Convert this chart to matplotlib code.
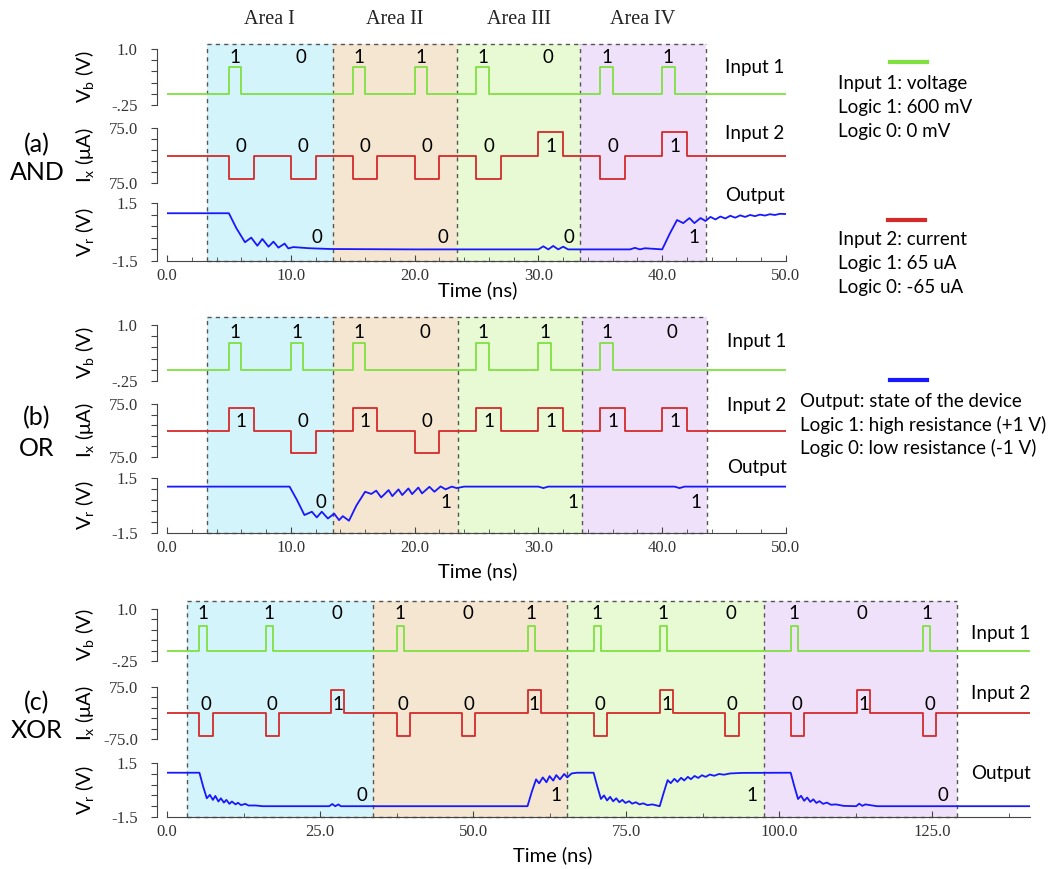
import numpy as np
import matplotlib
matplotlib.use('Agg')
import matplotlib.pyplot as plt
from matplotlib.lines import Line2D
from matplotlib.ticker import FixedLocator, MultipleLocator

plt.rcParams['font.family'] = ['Lato', 'DejaVu Sans']
plt.rcParams['mathtext.default'] = 'regular'

W, H = 1055, 869
SERIF = 'Liberation Serif'
GREEN = '#7fe040'
RED = '#d42a2a'
BLUE = '#1818ff'
AREA_COLORS = ['#d4f4fb', '#f4e6d0', '#e7fad3', '#efe1f9']

# ---- data (time in ns) ----
# (a) AND
a_slots = [5, 10, 15, 20, 25, 30, 35, 40]
a_in1 = [1, 0, 1, 1, 1, 0, 1, 1]
a_in2 = [0, 0, 0, 0, 0, 1, 0, 1]
a_areas = [3.2, 13.4, 23.4, 33.4, 43.5]
a_out_bits = ['0', '0', '0', '1']
a_out_lab_t = [12.1, 22.3, 32.5, 42.6]
a_out_t = [0, 5.0, 5.6, 6.3, 6.8, 7.3, 7.7, 8.2, 8.6, 9.0, 9.5, 9.8, 10.2, 11.5, 13.2, 20.0,
           30.0, 30.4, 30.8, 31.2, 31.6, 32.0, 32.4, 37.4, 37.8, 38.2, 38.6, 40.0, 40.6, 41.2,
           41.7, 42.2, 42.6, 43.1, 43.5, 43.9, 44.3, 44.7, 45.1, 45.5, 45.9, 46.3, 46.7, 47.1,
           47.5, 47.9, 48.3, 48.7, 49.1, 49.5, 50.0]
a_out_v = [0.97, 0.97, 0.2, -0.53, -0.29, -0.71, -0.36, -0.76, -0.5, -0.81, -0.6, -0.85, -0.78,
           -0.84, -0.88, -0.9, -0.9, -0.74, -0.9, -0.72, -0.9, -0.76, -0.9, -0.9, -0.82, -0.9,
           -0.84, -0.9, -0.1, 0.62, 0.46, 0.72, 0.46, 0.72, 0.57, 0.78, 0.65, 0.8, 0.7, 0.84,
           0.74, 0.86, 0.78, 0.88, 0.82, 0.9, 0.85, 0.92, 0.88, 0.94, 0.93]

# (b) OR
b_slots = [5, 10, 15, 20, 25, 30, 35, 40]
b_in1 = [1, 1, 1, 0, 1, 1, 1, 0]
b_in2 = [1, 0, 1, 0, 1, 1, 1, 1]
b_areas = [3.2, 13.4, 23.5, 33.5, 43.6]
b_out_bits = ['0', '1', '1', '1']
b_out_lab_t = [12.4, 22.5, 32.8, 42.7]
b_out_t = [0, 9.9, 10.5, 11.1, 11.7, 12.1, 12.5, 13.0, 13.5, 13.9, 14.2, 14.7, 15.3, 16.0, 16.5,
           16.9, 17.3, 17.9, 18.2, 18.7, 19.0, 19.5, 19.8, 20.3, 20.6, 21.2, 21.6, 22.1, 22.5,
           23.0, 23.4, 24.0, 30.0, 30.4, 30.8, 41.0, 41.4, 41.8, 50.0]
b_out_v = [1.03, 1.03, 0.3, -0.52, -0.34, -0.65, -0.34, -0.71, -0.44, -0.8, -0.58, -0.83, 0.0,
           0.75, 0.63, 0.81, 0.44, 0.84, 0.51, 0.88, 0.57, 0.93, 0.62, 0.98, 0.66, 1.02, 0.75,
           1.04, 0.88, 1.03, 0.95, 1.03, 1.03, 0.95, 1.03, 1.03, 0.95, 1.03, 1.03]

# (c) XOR
c_slots = [5.3, 16.1, 26.8, 37.5, 48.2, 58.9, 69.7, 80.5, 91.2, 101.9, 112.7, 123.5]
c_in1 = [1, 1, 0, 1, 0, 1, 1, 1, 0, 1, 0, 1]
c_in2 = [0, 0, 1, 0, 0, 1, 0, 1, 0, 0, 1, 0]
c_areas = [3.2, 33.6, 65.4, 97.6, 129.0]
c_out_bits = ['0', '1', '1', '0']
c_out_lab_t = [31.8, 63.5, 95.6, 126.8]
c_out_t = [0, 5.3, 5.9, 6.5, 7.0, 7.5, 7.9, 8.4, 8.8, 9.3, 9.7, 10.2, 10.6, 11.2, 11.6, 12.1,
           12.8, 13.3, 14.5, 15.6, 26.5, 27.0, 27.5, 28.0, 28.4, 58.9, 59.6, 60.3, 60.8, 61.4,
           62.0, 62.5, 63.1, 63.6, 64.2, 64.9, 65.4, 66.1, 67.0, 69.7, 70.3, 70.9, 71.4, 71.9,
           72.4, 72.9, 73.4, 73.9, 74.4, 74.9, 75.5, 76.0, 76.6, 77.2, 77.8, 78.5, 79.3, 80.5,
           81.2, 81.8, 82.3, 82.9, 83.4, 84.0, 84.5, 85.1, 85.6, 86.2, 86.8, 87.4, 88.0, 88.7,
           89.4, 90.2, 91.0, 92.0, 94.0, 101.9, 102.5, 103.1, 103.6, 104.1, 104.6, 105.1, 105.6,
           106.1, 106.6, 107.2, 107.8, 108.5, 109.3, 110.5, 112.6, 113.1, 113.6, 114.1, 116.0,
           141.0]
c_out_v = [0.96, 0.96, 0.2, -0.46, -0.27, -0.55, -0.33, -0.64, -0.46, -0.7, -0.55, -0.77, -0.64,
           -0.8, -0.71, -0.84, -0.77, -0.86, -0.86, -0.9, -0.9, -0.78, -0.9, -0.8, -0.9, -0.9,
           -0.1, 0.59, 0.37, 0.7, 0.43, 0.77, 0.52, 0.83, 0.59, 0.89, 0.7, 0.92, 0.96, 0.96,
           0.2, -0.5, -0.3, -0.58, -0.38, -0.63, -0.46, -0.68, -0.55, -0.72, -0.62, -0.76, -0.68,
           -0.8, -0.74, -0.84, -0.8, -0.9, -0.1, 0.55, 0.38, 0.62, 0.45, 0.68, 0.53, 0.73, 0.6,
           0.78, 0.67, 0.82, 0.73, 0.86, 0.79, 0.89, 0.85, 0.92, 0.95, 0.96, 0.2, -0.5, -0.32,
           -0.6, -0.42, -0.66, -0.52, -0.72, -0.62, -0.77, -0.7, -0.82, -0.8, -0.88, -0.9, -0.76,
           -0.88, -0.8, -0.9, -0.9]

IN1_HIGH = 0.6      # V
IN2_LEVEL = 65      # uA


def pulse_train(slots, bits, width, xmax, high, low=None):
    # step waveform built from the listed pulse starts
    xs, ys = [0], [0]
    for s, b in zip(slots, bits):
        if b:
            lev = high
        elif low is not None:
            lev = low
        else:
            continue
        xs += [s, s, s + width, s + width]
        ys += [0, lev, lev, 0]
    xs.append(xmax)
    ys.append(0)
    return xs, ys


def px_axes(fig, x0, x1, ytop, ybot):
    return fig.add_axes([x0 / W, 1 - ybot / H, (x1 - x0) / W, (ybot - ytop) / H])


def style_track(ax, xmax, ylim, ticks, labels, bottom=False):
    ax.set_facecolor('none')
    ax.set_xlim(0, xmax)
    ax.set_ylim(*ylim)
    for s in ['top', 'right']:
        ax.spines[s].set_visible(False)
    ax.spines['left'].set_position(('outward', 7))
    ax.spines['left'].set_color('#444444')
    ax.yaxis.set_major_locator(FixedLocator(ticks))
    ax.set_yticklabels(labels, fontfamily=SERIF, fontsize=12, color='#333333')
    ax.tick_params(axis='y', direction='out', length=4, color='#444444', pad=10)
    if not bottom:
        ax.spines['bottom'].set_visible(False)
        ax.set_xticks([])
    else:
        ax.spines['bottom'].set_color('#444444')
        ax.tick_params(axis='x', direction='in', length=4, color='#444444', pad=5)
        ax.tick_params(axis='x', which='minor', direction='in', length=3, color='#444444')


def draw_panel(fig, spec):
    x0, x1, xmax = spec['x0'], spec['x1'], spec['xmax']
    (vt, vb), (it, ib), (rt, rb) = spec['tracks']

    # shaded logic areas
    bg = px_axes(fig, x0, x1, spec['shade_top'], rb)
    bg.set_xlim(0, xmax)
    bg.set_ylim(0, 1)
    bg.axis('off')
    ar = spec['areas']
    for i in range(4):
        bg.axvspan(ar[i], ar[i + 1], color=AREA_COLORS[i], lw=0)
    for a in ar:
        bg.axvline(a, color='#555555', lw=1, ls=(0, (3, 3)), clip_on=False)
    bg.hlines([0, 1], ar[0], ar[-1], color='#555555', lw=1, ls=(0, (3, 3)), clip_on=False)

    # input 1
    ax1 = px_axes(fig, x0, x1, vt, vb)
    xs, ys = pulse_train(spec['slots'], spec['in1'], spec['w1'], xmax, IN1_HIGH)
    ax1.plot(xs, ys, color=GREEN, lw=1.3)
    style_track(ax1, xmax, (-0.25, 1.0), [1.0, 0.75, 0.5, 0.25, 0, -0.25],
                ['1.0', '', '', '', '', '-.25'])
    for s, b in zip(spec['slots'], spec['in1']):
        ax1.text(s + spec['w1'] / 2 + (0.3 if not b else 0), spec['lab1_y'], str(b),
                 ha='center', va='center', fontsize=13.5)

    # input 2
    ax2 = px_axes(fig, x0, x1, it, ib)
    xs, ys = pulse_train(spec['slots'], spec['in2'], spec['w2'], xmax, IN2_LEVEL, -IN2_LEVEL)
    ax2.plot(xs, ys, color=RED, lw=1.3)
    style_track(ax2, xmax, (-75, 75), [75, 45, 15, -15, -45, -75],
                ['75.0', '', '', '', '', spec['ix_bottom']])
    for s, b in zip(spec['slots'], spec['in2']):
        ax2.text(s + spec['w2'] / 2, 25, str(b), ha='center', va='center', fontsize=13.5)

    # output
    ax3 = px_axes(fig, x0, x1, rt, rb)
    ax3.plot(spec['out_t'], spec['out_v'], color=BLUE, lw=1.3)
    ax3.xaxis.set_major_locator(MultipleLocator(spec['major']))
    ax3.xaxis.set_minor_locator(MultipleLocator(spec['minor']))
    style_track(ax3, xmax, (-1.5, 1.5), [1.5, 0.9, 0.3, -0.3, -0.9, -1.5],
                ['1.5', '', '', '', '', '-1.5'], bottom=True)
    ax3.set_xticklabels([f'{v:.1f}' for v in ax3.get_xticks()], fontfamily=SERIF,
                        fontsize=12, color='#333333')
    for t, b in zip(spec['out_lab_t'], spec['out_bits']):
        ax3.text(t, spec['out_lab_y'], b, ha='center', va='center', fontsize=13.5)

    # axis names and side labels
    yl = ['V$_\\mathregular{b}$ (V)', 'I$_\\mathregular{x}$ (μA)', 'V$_\\mathregular{r}$ (V)']
    for lab, (t, b) in zip(yl, spec['tracks']):
        fig.text(84 / W, 1 - (t + b) / 2 / H, lab, rotation=90, ha='center', va='center',
                 fontsize=14.5)
    lx = spec['side_x']
    for lab, py in zip(['Input 1', 'Input 2', 'Output'], spec['side_y']):
        fig.text(lx / W, 1 - py / H, lab, ha='center', va='center', fontsize=13.5)
    tx, ty = spec['time_xy']
    fig.text(tx / W, 1 - ty / H, 'Time (ns)', ha='center', va='center', fontsize=14.5)
    for lab, py in zip(spec['name'], spec['name_y']):
        fig.text(37 / W, 1 - py / H, lab, ha='center', va='center', fontsize=18)


fig = plt.figure(figsize=(W / 100, H / 100), dpi=100)

panels = [
    dict(x0=167, x1=786, xmax=50, tracks=[(49, 105), (128, 183), (203, 261)], shade_top=44,
         slots=a_slots, in1=a_in1, in2=a_in2, w1=1.0, w2=2.0, areas=a_areas,
         out_t=a_out_t, out_v=a_out_v, out_bits=a_out_bits, out_lab_t=a_out_lab_t,
         out_lab_y=-0.31, lab1_y=0.8, ix_bottom='75.0', major=10, minor=2,
         side_x=755, side_y=[68, 133, 196], time_xy=(478, 290),
         name=['(a)', 'AND'], name_y=[145, 173]),
    dict(x0=167, x1=786, xmax=50, tracks=[(325, 381), (404, 457), (478, 533)], shade_top=317,
         slots=b_slots, in1=b_in1, in2=b_in2, w1=1.0, w2=2.0, areas=b_areas,
         out_t=b_out_t, out_v=b_out_v, out_bits=b_out_bits, out_lab_t=b_out_lab_t,
         out_lab_y=0.19, lab1_y=0.84, ix_bottom='75.0', major=10, minor=2,
         side_x=757, side_y=[342, 406, 467], time_xy=(478, 571),
         name=['(b)', 'OR'], name_y=[418, 448]),
    dict(x0=167, x1=1030, xmax=141, tracks=[(609, 661), (687, 739), (763, 817)], shade_top=601,
         slots=c_slots, in1=c_in1, in2=c_in2, w1=1.2, w2=2.2, areas=c_areas,
         out_t=c_out_t, out_v=c_out_v, out_bits=c_out_bits, out_lab_t=c_out_lab_t,
         out_lab_y=-0.28, lab1_y=0.9, ix_bottom='-75.0', major=25, minor=12.5,
         side_x=1001, side_y=[634, 693, 773], time_xy=(553, 855),
         name=['(c)', 'XOR'], name_y=[703, 731]),
]
for p in panels:
    draw_panel(fig, p)

# area titles above panel (a)
for i, name in enumerate(['Area I', 'Area II', 'Area III', 'Area IV']):
    mid = (a_areas[i] + a_areas[i + 1]) / 2
    fig.text((167 + mid * 619 / 50) / W, 1 - 20 / H, name, ha='center', va='center',
             fontfamily=SERIF, fontsize=14.5, color='#222222')

# description keys on the right
keys = [
    (GREEN, 890, 927, 62, 838, [(83, 'Input 1: voltage'), (107, 'Logic 1: 600 mV'),
                                 (132, 'Logic 0: 0 mV')]),
    (RED, 888, 925, 220, 838, [(239, 'Input 2: current'), (264, 'Logic 1: 65 uA'),
                                (288, 'Logic 0: -65 uA')]),
    (BLUE, 890, 927, 380, 800, [(402, 'Output: state of the device'),
                                 (425, 'Logic 1: high resistance (+1 V)'),
                                 (448, 'Logic 0: low resistance (-1 V)')]),
]
for col, lx0, lx1, ly, tx, lines in keys:
    fig.add_artist(Line2D([lx0 / W, lx1 / W], [1 - ly / H, 1 - ly / H], color=col, lw=3,
                          transform=fig.transFigure))
    for py, s in lines:
        fig.text(tx / W, 1 - py / H, s, ha='left', va='center', fontsize=13.5)

fig.savefig('out.png', dpi=100)
